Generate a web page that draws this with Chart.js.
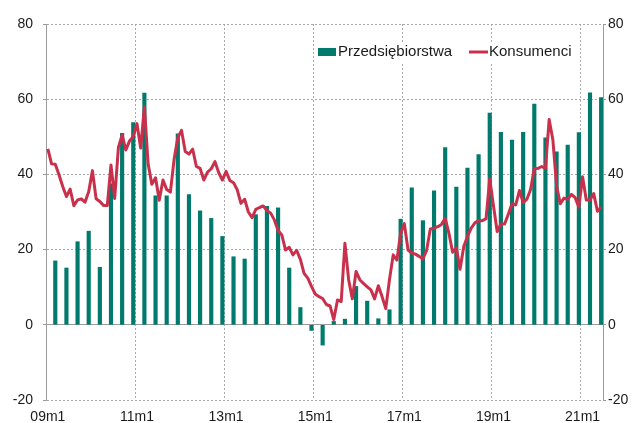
<!DOCTYPE html>
<html>
<head>
<meta charset="utf-8">
<script src="https://cdn.jsdelivr.net/npm/chart.js@4.4.1/dist/chart.umd.min.js"></script>
<style>
  html, body { margin: 0; padding: 0; background: #fff; }
</style>
</head>
<body>
<canvas id="chart" width="638" height="423"></canvas>
<script>
// === DATA ===
// monthly categories 09m1 .. 21m6
const months = [];
for (let y = 2009; y <= 2021; y++) {
    for (let m = 1; m <= 12; m++) {
        if (y === 2021 && m > 6) break;
        months.push(String(y % 100).padStart(2, '0') + 'm' + m);
    }
}
const tickLabels = ['09m1', '11m1', '13m1', '15m1', '17m1', '19m1', '21m1'];
const yTicks = [-20, 0, 20, 40, 60, 80];

// Przedsiębiorstwa - quarterly (end of quarter months)
const quarters = months.filter(l => /m(3|6|9|12)$/.test(l));
const firms = [
    17.0, 15.1, 22.1, 24.9,
    15.3, 37.5, 50.9, 53.8,
    61.6, 34.3, 34.3, 50.8,
    34.6, 30.3, 28.3, 23.5,
    18.1, 17.5, 29.3, 31.5,
    31.1, 15.1, 4.6, -1.5,
    -5.4, 0.9, 1.5, 10.2,
    6.3, 1.6, 4.0, 28.1,
    36.4, 27.7, 35.6, 47.1,
    36.6, 41.7, 45.3, 56.3,
    51.2, 49.1, 51.2, 58.7,
    49.7, 46.0, 47.8, 51.1,
    61.7, 60.4
];

// Konsumenci - monthly
const consumers = [
    46.8, 42.8, 42.7, 39.9, 36.8, 34.1, 36.1, 31.7, 33.2, 33.5, 32.6, 35.4,
    41.0, 33.5, 32.8, 31.7, 31.7, 42.5, 33.6, 47.2, 50.5, 46.5, 48.9, 50.1,
    53.5, 47.0, 58.0, 42.8, 37.4, 39.1, 33.1, 38.5, 36.0, 35.3, 44.0, 49.8,
    51.7, 46.1, 45.4, 46.7, 42.1, 41.6, 38.5, 40.6, 41.5, 43.4, 40.5, 38.5,
    40.8, 38.4, 37.8, 35.9, 32.3, 33.4, 30.0, 28.5, 30.7, 31.2, 31.6, 30.4,
    29.7, 27.9, 25.1, 23.9, 19.9, 20.6, 18.6, 19.8, 17.4, 13.7, 12.4, 10.2,
    8.2, 7.5, 7.0, 5.4, 5.0, 1.4, 6.6, 6.2, 21.7, 12.0, 6.9, 14.2,
    12.0, 11.0, 10.1, 9.3, 6.9, 10.4, 7.5, 4.3, 12.0, 18.6, 17.2, 24.4,
    26.9, 19.9, 19.1, 18.8, 18.2, 17.5, 19.8, 25.5, 25.7, 26.1, 26.7, 28.3,
    24.4, 19.3, 20.5, 14.8, 20.8, 23.5, 25.7, 27.1, 27.7, 27.7, 28.2, 38.8,
    31.7, 24.8, 26.8, 26.8, 29.4, 32.2, 31.9, 35.7, 32.5, 33.4, 36.0, 41.6,
    41.6, 42.1, 41.6, 54.6, 49.2, 37.0, 32.2, 33.7, 33.4, 34.7, 33.8, 31.3,
    39.4, 33.2, 33.2, 34.9, 30.2, 31.3
];

// === STYLE ===
const barColor = '#007a6c';
const lineColor = '#c8304b';
const gridColor = '#a8a8a8';
const axisColor = '#9a9a9a';
const textColor = '#1a1a1a';

Chart.defaults.font.family = "'Liberation Sans', Arial, sans-serif";
Chart.defaults.font.size = 14;
Chart.defaults.color = textColor;

// legend drawn by hand (tight spacing like the original)
const manualLegend = {
    id: 'manualLegend',
    afterDraw(chart) {
        const c = chart.ctx;
        const ds = chart.data.datasets;
        c.save();
        c.fillStyle = '#fff';
        c.fillRect(316, 42, 262, 20);
        c.font = "15px 'Liberation Sans', Arial, sans-serif";
        c.textBaseline = 'middle';
        c.fillStyle = barColor;
        c.fillRect(318, 48, 18, 8);
        c.fillStyle = textColor;
        c.fillText(ds[0].label, 338, 52);
        c.strokeStyle = lineColor;
        c.lineWidth = 3;
        c.beginPath();
        c.moveTo(469, 52);
        c.lineTo(488, 52);
        c.stroke();
        c.fillText(ds[1].label, 489, 52);
        c.restore();
    }
};

new Chart(document.getElementById('chart'), {
    type: 'bar',
    data: {
        labels: months,
        datasets: [{
            label: 'Przedsiębiorstwa',
            data: quarters.map((q, i) => ({ x: q, y: firms[i] })),
            backgroundColor: barColor,
            barThickness: 3.5,
            order: 1,
            yAxisID: 'y'
        }, {
            type: 'line',
            label: 'Konsumenci',
            data: consumers,
            borderColor: lineColor,
            borderWidth: 3,
            borderJoinStyle: 'round',
            pointRadius: 0,
            tension: 0,
            order: 0,
            yAxisID: 'y'
        }]
    },
    options: {
        responsive: false,
        animation: false,
        devicePixelRatio: 1,
        layout: { padding: { top: 24, left: 0, right: 0, bottom: 0 } },
        plugins: {
            legend: { display: false },
            tooltip: { enabled: false }
        },
        scales: {
            x: {
                offset: true,
                grid: {
                    offset: true,
                    drawTicks: false,
                    color: ctx => (ctx.index % 24 === 0 ? gridColor : 'transparent')
                },
                border: { display: false, dash: [2, 2] },
                ticks: {
                    autoSkip: false,
                    maxRotation: 0,
                    padding: 9,
                    callback: function(val) {
                        const l = this.getLabelForValue(val);
                        return tickLabels.includes(l) ? l : '';
                    }
                },
                afterFit: s => { s.height = 23; }
            },
            y: {
                min: yTicks[0],
                max: yTicks[yTicks.length - 1],
                ticks: { stepSize: 20, padding: 10 },
                grid: {
                    color: ctx => (ctx.tick && ctx.tick.value === 0 ? axisColor : gridColor),
                    tickLength: 3,
                    tickColor: axisColor
                },
                border: {
                    display: true,
                    color: axisColor,
                    dash: ctx => (ctx.tick && ctx.tick.value === 0 ? [] : [2, 2])
                },
                afterFit: s => { s.width = 46; }
            },
            y2: {
                position: 'right',
                min: yTicks[0],
                max: yTicks[yTicks.length - 1],
                ticks: { stepSize: 20, padding: 2 },
                grid: { drawOnChartArea: false, tickLength: 3, tickColor: axisColor },
                border: { display: true, color: axisColor },
                afterFit: s => { s.width = 35; }
            }
        }
    },
    plugins: [manualLegend]
});
</script>
</body>
</html>
